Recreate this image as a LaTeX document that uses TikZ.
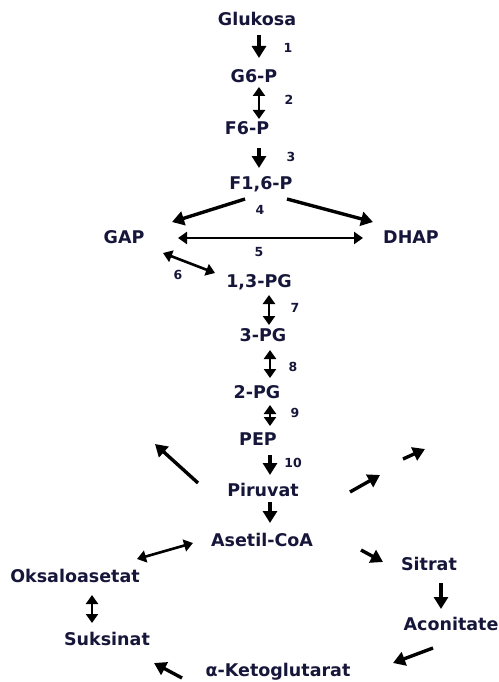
\documentclass[tikz,border=0pt]{standalone}
\usepackage{fontspec}
\setmainfont{DejaVu Sans}
\usetikzlibrary{arrows.meta}
\definecolor{GLink}{RGB}{22,22,58}
\tikzset{GLmet/.style={font=\fontsize{17.5}{20}\selectfont\bfseries,text=GLink,inner sep=1pt,text height=12.6pt,text depth=0pt},
         GLnum/.style={font=\fontsize{12.5}{14}\selectfont\bfseries,text=GLink,inner sep=0pt},
         GLarr/.style={-{Triangle[length=12pt,width=14pt]},line width=3.4pt},
         GLrev/.style={{Triangle[length=9pt,width=12pt]}-{Triangle[length=9pt,width=12pt]},line width=2.6pt}}

\begin{document}
\begin{tikzpicture}[x=1pt,y=-1pt]
    \useasboundingbox (0,0) rectangle (498,682);
    % metabolites
    \foreach \x/\y/\n/\t in {257/19/glc/Glukosa,254/76/g6p/G6-P,247/128/f6p/F6-P,261/183/f16p/{F1,6-P},
        124/237/gap/GAP,411/237/dhap/DHAP,259/281/pg13/{1,3-PG},263/335/pg3/3-PG,257/392/pg2/2-PG,
        258/439/pep/PEP,263/490/pyr/Piruvat,262/540/acoa/Asetil-CoA,75/576/oaa/Oksaloasetat,
        429/564/cit/Sitrat,451/624/aco/Aconitate,278/670/akg/α-Ketoglutarat,107/639/suc/Suksinat}
      {\node[GLmet] (\n) at (\x,\y) {\t};}
    % enzyme numbers
    \foreach \x/\y/\n in {288/48/1,289/100/2,291/157/3,260/210/4,259/252/5,178/275/6,
        295/308/7,293/367/8,295/413/9,293/463/10}
      {\node[GLnum] (e\n) at (\x,\y) {\n};}
    % reactions
    \foreach \a/\b/\s/\p/\q in {glc/g6p/GLarr/{2,16}/{5,-18},g6p/f6p/GLrev/{5,11}/{12,-9},
        f6p/f16p/GLarr/{12,20}/{-2,-15},f16p/gap/GLarr/{-16,16}/{48,-15},f16p/dhap/GLarr/{26,16}/{-38,-15},
        gap/dhap/GLrev/{54,1}/{-48,1},gap/pg13/GLrev/{39,16}/{-44,-8},pg13/pg3/GLrev/{10,14}/{6,-10},
        pg3/pg2/GLrev/{7,15}/{13,-14},pg2/pep/GLrev/{13,13}/{12,-13},pep/pyr/GLarr/{12,16}/{7,-15},
        pyr/acoa/GLarr/{7,12}/{8,-17},oaa/acoa/GLrev/{62,-17}/{-69,3},acoa/cit/GLarr/{99,10}/{-46,-2},
        cit/aco/GLarr/{12,19}/{-10,-15},aco/akg/GLarr/{-18,24}/{115,-7},akg/suc/GLarr/{-96,8}/{47,24},
        oaa/suc/GLrev/{17,19}/{-15,-16}}
      {\draw[\s] ([shift={(\p)}]\a.center) -- ([shift={(\q)}]\b.center);}
    % side branches
    \coordinate (lft) at (155,444); \coordinate (rgt) at (380,475); \coordinate (far) at (425,449);
    \draw[GLarr] ([shift={(-65,-7)}]pyr.center) -- (lft);
    \draw[GLarr] ([shift={(87,2)}]pyr.center) -- (rgt);
    \draw[GLarr] ([shift={(140,-31)}]pyr.center) -- (far);
  \end{tikzpicture}
\end{document}
